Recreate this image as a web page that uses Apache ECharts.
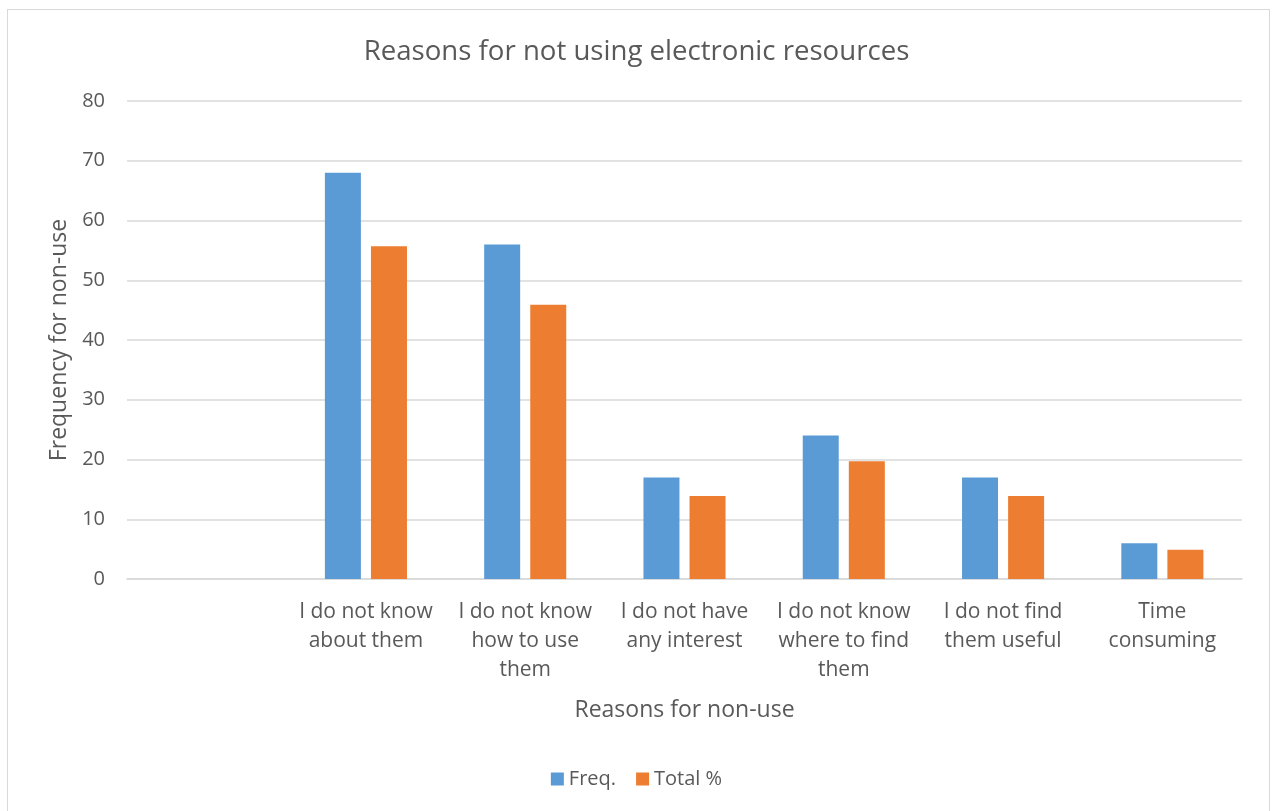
<!DOCTYPE html>
<html>
<head>
<meta charset="utf-8">
<script src="https://cdn.jsdelivr.net/npm/echarts@6/dist/echarts.min.js"></script>
<style>
  html, body { margin: 0; padding: 0; background: #fff; }
  #frame { position: absolute; left: 7px; top: 9px; width: 1263px; height: 810px; border: 1px solid #d9d9d9; box-sizing: border-box; }
  #chart { width: 1273px; height: 811px; position: absolute; left: 0; top: 0; }
</style>
</head>
<body>
<div id="frame"></div>
<div id="chart"></div>
<script>
// Categories (the first slot is intentionally empty)
const categories = ['', 'I do not know\nabout them', 'I do not know\nhow to use\nthem', 'I do not have\nany interest', 'I do not know\nwhere to find\nthem', 'I do not find\nthem useful', 'Time\nconsuming'];
const freq = [null, 68, 56, 17, 24, 17, 6];
const totalPct = [null, 55.7, 45.9, 13.9, 19.7, 13.9, 4.9];
const yTicks = { min: 0, max: 80, interval: 10 };

const FONT = '"Open Sans", "Noto Sans", sans-serif';
const TXT = '#595959';

const chart = echarts.init(document.getElementById('chart'), null, { renderer: 'canvas' });
chart.setOption({
  animation: false,
  backgroundColor: 'transparent',
  textStyle: { fontFamily: FONT, color: TXT },
  title: {
    text: 'Reasons for not using electronic resources',
    left: 'center',
    top: 33,
    textStyle: { fontFamily: FONT, fontSize: 27.6, fontWeight: 'normal', color: TXT }
  },
  legend: {
    bottom: 17,
    left: 'center',
    itemWidth: 13,
    itemHeight: 13,
    itemGap: 20,
    icon: 'rect',
    textStyle: { fontFamily: FONT, fontSize: 20, color: TXT }
  },
  grid: { left: 127, right: 31, top: 101, bottom: 232, containLabel: false },
  xAxis: {
    type: 'category',
    data: categories,
    name: 'Reasons for non-use',
    nameLocation: 'middle',
    nameGap: 120,
    nameTextStyle: { fontFamily: FONT, fontSize: 23, color: TXT },
    axisLine: { lineStyle: { color: '#d9d9d9', width: 1.5 } },
    axisTick: { show: false },
    axisLabel: { interval: 0, fontFamily: FONT, fontSize: 21, color: TXT, lineHeight: 29, margin: 19 }
  },
  yAxis: {
    type: 'value',
    min: yTicks.min,
    max: yTicks.max,
    interval: yTicks.interval,
    name: 'Frequency for non-use',
    nameLocation: 'middle',
    nameGap: 56,
    nameTextStyle: { fontFamily: FONT, fontSize: 23, color: TXT },
    axisLine: { show: false },
    axisTick: { show: false },
    axisLabel: { fontFamily: FONT, fontSize: 20, color: TXT, margin: 22 },
    splitLine: { lineStyle: { color: '#d9d9d9', width: 1.5 } }
  },
  series: [
    { name: 'Freq.', type: 'bar', data: freq, barWidth: 36, barGap: '28%', itemStyle: { color: '#5b9bd5' } },
    { name: 'Total %', type: 'bar', data: totalPct, barWidth: 36, itemStyle: { color: '#ed7d31' } }
  ]
});
</script>
</body>
</html>
